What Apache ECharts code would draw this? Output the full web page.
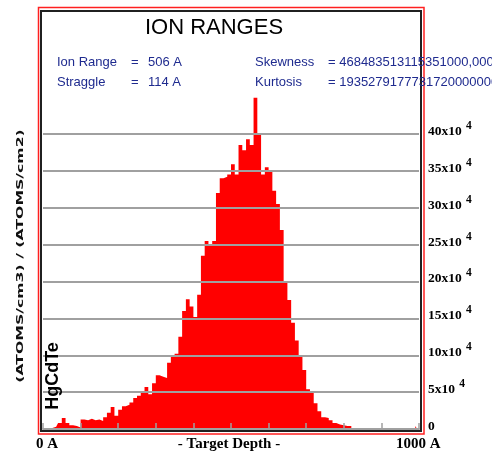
<!DOCTYPE html>
<html>
<head>
<meta charset="utf-8">
<script src="https://cdn.jsdelivr.net/npm/echarts@6/dist/echarts.min.js"></script>
<style>html,body{margin:0;padding:0;background:#fff;}#c{width:492px;height:454px;}</style>
</head>
<body>
<div id="c"></div>
<script>
// Depth bins (A), 10 A wide
const depthBins = [
  0,10,20,30,40,50,60,70,80,90,
  100,110,120,130,140,150,160,170,180,190,
  200,210,220,230,240,250,260,270,280,290,
  300,310,320,330,340,350,360,370,380,390,
  400,410,420,430,440,450,460,470,480,490,
  500,510,520,530,540,550,560,570,580,590,
  600,610,620,630,640,650,660,670,680,690,
  700,710,720,730,740,750,760,770,780,790,
  800,810,820,830,840,850,860,870,880,890,
  900,910,920,930,940,950,960,970,980,990
];
// Concentration, units of 10^4 (atoms/cm3)/(atoms/cm2)
const concentration = [
  0.15,0.15,0.15,0.3,0.8,1.5,0.8,0.5,0.4,0.2,
  1.3,1.2,1.4,1.2,1.3,1.1,1.6,2.2,3.0,1.8,
  2.6,3.1,3.3,3.6,4.2,4.5,5.0,5.7,4.7,6.2,
  7.3,7.1,6.9,9.0,9.8,10.2,12.5,16.0,17.6,16.6,
  15.2,18.2,23.5,25.5,24.8,25.5,32.0,34.0,34.2,34.5,
  35.9,34.5,38.5,37.8,39.3,38.5,44.9,40.0,34.5,35.5,
  35.0,32.3,30.5,27.0,19.8,17.5,14.4,12.0,10.0,8.0,
  5.4,5.0,3.5,2.4,1.6,1.5,1.2,0.8,0.6,0.5,
  0.4,0.4,0.1,0,0,0,0,0,0,0,
  0,0,0,0,0,0,0,0,0,0.4
];
const yTickValues = [0,5,10,15,20,25,30,35,40];
const yExponent = '4';
const xLabels = ['0 A', '- Target Depth -', '1000 A'];
const titleText = 'ION RANGES';
const statNames = ['Ion Range', 'Straggle', 'Skewness', 'Kurtosis'];
const statValues = ['506 A', '114 A', '= 468483513115351000,0000', '= 19352791777317200000000'];
const yName = '(ATOMS/cm3) / (ATOMS/cm2)';
const targetName = 'HgCdTe';

const chart = echarts.init(document.getElementById('c'));
const serif = '"Liberation Serif", "Times New Roman", serif';
const sans = '"Liberation Sans", Arial, sans-serif';
const navy = '#1f2b8f';

const option = {
  backgroundColor: '#fff',
  animation: false,
  grid: { left: 43, right: 73, top: 97.2, bottom: 25 },
  xAxis: {
    type: 'category',
    data: depthBins,
    boundaryGap: true,
    z: 10,
    axisLine: { show: true, lineStyle: { color: '#a0a0a0', width: 2 } },
    axisTick: {
      show: true, inside: true, length: 6,
      interval: function (i) { return i % 10 === 0; },
      lineStyle: { color: '#a0a0a0', width: 1.5 }
    },
    axisLabel: { show: false },
    splitLine: { show: false }
  },
  yAxis: {
    type: 'value',
    position: 'right',
    min: 0, max: 44.99, interval: 5,
    z: 10,
    axisLine: { show: false },
    axisTick: { show: false },
    splitLine: { show: true, showMaxLine: false, lineStyle: { color: '#a0a0a0', width: 2 } },
    axisLabel: {
      margin: 9,
      showMaxLabel: false,
      padding: [0, 0, 5, 0],
      formatter: function (v) {
        if (yTickValues.indexOf(v) < 0) return '';
        return v === 0 ? '{a|0}' : '{a|' + v + 'x10} {s|' + yExponent + '}';
      },
      rich: {
        a: { fontFamily: serif, fontWeight: 'bold', fontSize: 13.5, color: '#000' },
        s: { fontFamily: serif, fontWeight: 'bold', fontSize: 11.5, color: '#000', padding: [0, 0, 11, 1] }
      }
    }
  },
  series: [{
    type: 'line',
    data: concentration,
    step: 'middle',
    symbol: 'none',
    z: 2,
    lineStyle: { opacity: 0 },
    areaStyle: { color: '#ff0000', opacity: 1 },
    itemStyle: { color: '#ff0000' }
  }],
  graphic: [
    { type: 'rect', silent: true, z: 1, shape: { x: 38.5, y: 7.5, width: 385.5, height: 426.5 },
      style: { fill: 'none', stroke: '#ff2020', lineWidth: 1.5 } },
    { type: 'rect', silent: true, z: 1, shape: { x: 41, y: 11, width: 380, height: 420 },
      style: { fill: 'none', stroke: '#202020', lineWidth: 2 } },
    { type: 'text', x: 214, y: 28, z: 20, style: { text: titleText, font: '22px ' + sans, fill: '#000', textAlign: 'center', textVerticalAlign: 'middle', align: 'center', verticalAlign: 'middle' } },
    { type: 'text', x: 57, y: 62, z: 20, style: { text: statNames[0], font: '13px ' + sans, fill: navy, textVerticalAlign: 'middle', verticalAlign: 'middle' } },
    { type: 'text', x: 131, y: 62, z: 20, style: { text: '=', font: '13px ' + sans, fill: navy, textVerticalAlign: 'middle', verticalAlign: 'middle' } },
    { type: 'text', x: 148, y: 62, z: 20, style: { text: statValues[0], font: '13px ' + sans, fill: navy, textVerticalAlign: 'middle', verticalAlign: 'middle' } },
    { type: 'text', x: 57, y: 82, z: 20, style: { text: statNames[1], font: '13px ' + sans, fill: navy, textVerticalAlign: 'middle', verticalAlign: 'middle' } },
    { type: 'text', x: 131, y: 82, z: 20, style: { text: '=', font: '13px ' + sans, fill: navy, textVerticalAlign: 'middle', verticalAlign: 'middle' } },
    { type: 'text', x: 148, y: 82, z: 20, style: { text: statValues[1], font: '13px ' + sans, fill: navy, textVerticalAlign: 'middle', verticalAlign: 'middle' } },
    { type: 'text', x: 255, y: 62, z: 20, style: { text: statNames[2], font: '13px ' + sans, fill: navy, textVerticalAlign: 'middle', verticalAlign: 'middle' } },
    { type: 'text', x: 328, y: 62, z: 20, style: { text: statValues[2], font: '13px ' + sans, fill: navy, textVerticalAlign: 'middle', verticalAlign: 'middle' } },
    { type: 'text', x: 255, y: 82, z: 20, style: { text: statNames[3], font: '13px ' + sans, fill: navy, textVerticalAlign: 'middle', verticalAlign: 'middle' } },
    { type: 'text', x: 328, y: 82, z: 20, style: { text: statValues[3], font: '13px ' + sans, fill: navy, textVerticalAlign: 'middle', verticalAlign: 'middle' } },
    { type: 'text', x: 36, y: 444, z: 20, style: { text: xLabels[0], font: 'bold 15px ' + serif, fill: '#000', textVerticalAlign: 'middle', verticalAlign: 'middle' } },
    { type: 'text', x: 229, y: 444, z: 20, style: { text: xLabels[1], font: 'bold 15px ' + serif, fill: '#000', textAlign: 'center', align: 'center', textVerticalAlign: 'middle', verticalAlign: 'middle' } },
    { type: 'text', x: 396, y: 444, z: 20, style: { text: xLabels[2], font: 'bold 15px ' + serif, fill: '#000', textVerticalAlign: 'middle', verticalAlign: 'middle' } },
    { type: 'text', x: 21, y: 256, z: 20, rotation: Math.PI / 2, scaleX: 1.65, scaleY: 1,
      style: { text: yName, font: 'bold 9.5px "DejaVu Sans", sans-serif', fill: '#111', textAlign: 'center', align: 'center', textVerticalAlign: 'middle', verticalAlign: 'middle' } },
    { type: 'text', x: 53, y: 376, z: 20, rotation: Math.PI / 2,
      style: { text: targetName, font: 'bold 18px ' + sans, fill: '#000', textAlign: 'center', align: 'center', textVerticalAlign: 'middle', verticalAlign: 'middle' } }
  ]
};
chart.setOption(option);
</script>
</body>
</html>
